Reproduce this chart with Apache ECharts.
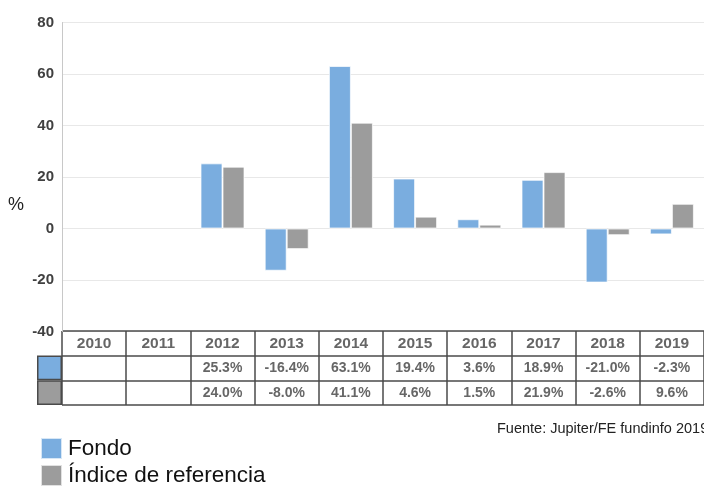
<!DOCTYPE html>
<html>
<head>
<meta charset="utf-8">
<script src="https://cdn.jsdelivr.net/npm/echarts@6/dist/echarts.min.js"></script>
<style>html,body{margin:0;padding:0;background:#fff;}#c{width:704px;height:487px;}</style>
</head>
<body>
<div id="c"></div>
<script>
var years = ['2010','2011','2012','2013','2014','2015','2016','2017','2018','2019'];
var fondo = [null, null, 25.3, -16.4, 63.1, 19.4, 3.6, 18.9, -21.0, -2.3];
var indice = [null, null, 24.0, -8.0, 41.1, 4.6, 1.5, 21.9, -2.6, 9.6];
var seriesNames = ['Fondo', 'Índice de referencia'];
var yTicks = {min: -40, max: 80, interval: 20};
var sourceText = 'Fuente: Jupiter/FE fundinfo 2019';

var BLUE = '#7aaddf', GREY = '#9c9c9c', LINE = '#4a4a4a', TXT = '#404040';
var FONT = 'Liberation Sans, Arial, sans-serif';

function fmt(v){ return v == null ? '' : v.toFixed(1) + '%'; }

var tableData = [];
years.forEach(function(y, i){
  tableData.push({value: [i, 0.5], label: {formatter: y, fontSize: 15.5}});
  tableData.push({value: [i, 1.5], label: {formatter: fmt(fondo[i])}});
  tableData.push({value: [i, 2.5], label: {formatter: fmt(indice[i])}});
});

function legendFor(name, top){
  return {
    data: [name], orient: 'vertical', left: 35, top: top, padding: [0,5,0,5],
    itemWidth: 21, itemHeight: 21, icon: 'rect', itemGap: 0,
    textStyle: {fontSize: 22.5, color: '#111', fontFamily: FONT, padding: [2,0,0,1]}
  };
}

var chart = echarts.init(document.getElementById('c'), null, {renderer: 'canvas'});
chart.setOption({
  animation: false,
  textStyle: {fontFamily: FONT},
  title: [
    {text: sourceText, left: 492, top: 416, textStyle: {fontSize: 14.5, fontWeight: 'normal', color: '#222', fontFamily: FONT}},
    {text: '%', left: 3, top: 191, textStyle: {fontSize: 18, fontWeight: 'normal', color: '#222', fontFamily: FONT}}
  ],
  legend: [legendFor(seriesNames[0], 437), legendFor(seriesNames[1], 464)],
  grid: [
    {left: 62, top: 22.5, width: 643, height: 309},
    {left: 62, top: 331, width: 643, height: 74, show: false},
    {left: 37, top: 355.5, width: 25, height: 49.5, show: false}
  ],
  xAxis: [
    {gridIndex: 0, type: 'category', data: years, axisLine: {show: false}, axisTick: {show: false}, axisLabel: {show: false}},
    {gridIndex: 1, type: 'category', data: years, axisLine: {show: false}, axisTick: {show: false}, axisLabel: {show: false},
     splitLine: {show: true, lineStyle: {color: LINE, width: 1.5}}},
    {gridIndex: 2, type: 'value', min: 0, max: 1, show: false}
  ],
  yAxis: [
    {gridIndex: 0, type: 'value', min: yTicks.min, max: yTicks.max, interval: yTicks.interval,
     axisLine: {show: true, lineStyle: {color: '#c8c8c8', width: 1}}, axisTick: {show: false},
     axisLabel: {color: TXT, fontWeight: 'bold', fontSize: 15, margin: 8, fontFamily: FONT},
     splitLine: {lineStyle: {color: '#e8e8e8', width: 1}}},
    {gridIndex: 1, type: 'value', min: 0, max: 3, interval: 1, inverse: true,
     axisLine: {show: false}, axisTick: {show: false}, axisLabel: {show: false},
     splitLine: {show: true, lineStyle: {color: LINE, width: 1.5}}},
    {gridIndex: 2, type: 'category', data: seriesNames, inverse: true, show: false}
  ],
  series: [
    {name: seriesNames[0], type: 'bar', xAxisIndex: 0, yAxisIndex: 0, data: fondo, barWidth: 22, barGap: '0%',
     itemStyle: {color: BLUE, borderColor: 'rgba(255,255,255,0.7)', borderWidth: 1}},
    {name: seriesNames[1], type: 'bar', xAxisIndex: 0, yAxisIndex: 0, data: indice, barWidth: 22, barGap: '0%',
     itemStyle: {color: GREY, borderColor: 'rgba(255,255,255,0.7)', borderWidth: 1}},
    {type: 'scatter', xAxisIndex: 1, yAxisIndex: 1, data: tableData, symbolSize: 0, silent: true,
     label: {show: true, position: 'inside', color: TXT, fontWeight: 'bold', fontSize: 14, fontFamily: FONT}},
    {type: 'bar', xAxisIndex: 2, yAxisIndex: 2, barCategoryGap: 0, silent: true,
     data: [{value: 1, itemStyle: {color: BLUE}}, {value: 1, itemStyle: {color: GREY}}],
     itemStyle: {borderColor: LINE, borderWidth: 1.5}}
  ]
});
</script>
</body>
</html>
